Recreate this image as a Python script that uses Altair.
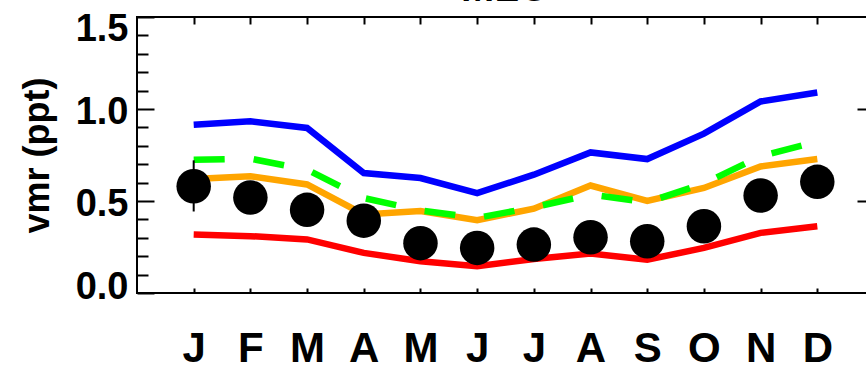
import altair as alt
import pandas as pd

# Monthly mean volume mixing ratios (ppt)
months = ["J", "F", "M", "A", "M", "J", "J", "A", "S", "O", "N", "D"]
month_num = list(range(1, 13))

obs_vmr = [0.580, 0.519, 0.452, 0.393, 0.271, 0.245, 0.263, 0.303, 0.281, 0.363, 0.530, 0.604]
err_month = [1]
err_low = [0.443]
err_high = [0.721]

sim_blue = [0.915, 0.933, 0.897, 0.652, 0.625, 0.543, 0.643, 0.764, 0.728, 0.866, 1.041, 1.090]
sim_orange = [0.620, 0.635, 0.590, 0.427, 0.445, 0.396, 0.458, 0.584, 0.500, 0.571, 0.688, 0.728]
sim_green = [0.724, 0.730, 0.670, 0.516, 0.449, 0.408, 0.466, 0.535, 0.493, 0.595, 0.743, 0.824]
sim_red = [0.318, 0.309, 0.291, 0.218, 0.173, 0.145, 0.185, 0.214, 0.181, 0.245, 0.327, 0.363]

station = "MLO"
y_major = [0.0, 0.5, 1.0, 1.5]
y_minor = [0.1, 0.2, 0.3, 0.4, 0.6, 0.7, 0.8, 0.9, 1.1, 1.2, 1.3, 1.4]

W, H = 737, 276
FONT = "Liberation Sans"

solid = pd.DataFrame(
    {
        "month": month_num * 3,
        "vmr": sim_red + sim_orange + sim_blue,
        "run": ["red"] * 12 + ["orange"] * 12 + ["blue"] * 12,
    }
)
dashed = pd.DataFrame({"month": month_num, "vmr": sim_green})
obs = pd.DataFrame({"month": month_num, "vmr": obs_vmr})
errs = pd.DataFrame({"month": err_month, "lo": err_low, "hi": err_high})
title_df = pd.DataFrame({"label": [station]})

x_scale = alt.Scale(domain=[0, 13], nice=False, zero=False)
y_scale = alt.Scale(domain=[0, 1.5], nice=False, zero=False)

month_expr = "[" + ",".join("'%s'" % m for m in months) + "][datum.value - 1]"

x_bottom = alt.Axis(
    orient="bottom", values=month_num, labelExpr=month_expr, tickSize=5, offset=-5,
    domain=False, grid=False, title=None, labelFontSize=42, labelFontWeight="bold",
    labelPadding=35, labelOverlap=False, labelFlush=False, labelBound=False,
)
x_top = alt.Axis(
    orient="top", values=month_num, tickSize=7, offset=-7, labels=False,
    domain=False, grid=False, title=None,
)
y_left = alt.Axis(
    orient="left", values=y_major, format=".1f", tickSize=17, offset=-17,
    domain=False, grid=False, labelFontSize=38, labelFontWeight="bold", labelPadding=9,
    labelOverlap=False, labelFlush=False, labelBound=False,
    labelOffset={
        "condition": [
            {"test": "datum.value >= 1.5", "value": 12},
            {"test": "datum.value <= 0", "value": -6},
        ],
        "value": 3,
    },
    title="vmr (ppt)", titleFontSize=36, titleFontWeight="bold", titlePadding=19,
)
y_left_minor = alt.Axis(
    orient="left", values=y_minor, tickSize=11, offset=-11, labels=False,
    domain=False, grid=False, title=None,
)
y_right = alt.Axis(
    orient="right", values=[0.5, 1.0], tickSize=17, offset=-17, labels=False,
    domain=False, grid=False, title=None,
)

lines = alt.Chart(solid).mark_line(strokeWidth=6.5).encode(
    x=alt.X("month:Q", scale=x_scale, axis=x_bottom),
    y=alt.Y("vmr:Q", scale=y_scale, axis=y_left),
    color=alt.Color(
        "run:N",
        scale=alt.Scale(domain=["red", "orange", "blue"], range=["#ff0000", "#ffa500", "#0000ff"]),
        legend=None,
    ),
    detail="run:N",
)

green = alt.Chart(dashed).mark_line(strokeWidth=6.5, color="#00ff00", strokeDash=[31, 29]).encode(
    x=alt.X("month:Q", scale=x_scale, axis=None),
    y=alt.Y("vmr:Q", scale=y_scale, axis=None),
)

dots = alt.Chart(obs).mark_circle(size=1190, color="black", opacity=1).encode(
    x=alt.X("month:Q", scale=x_scale, axis=x_top),
    y=alt.Y("vmr:Q", scale=y_scale, axis=y_left_minor),
)

bars = alt.Chart(errs).mark_rule(color="black", strokeWidth=2).encode(
    x=alt.X("month:Q", scale=x_scale, axis=None),
    y=alt.Y("lo:Q", scale=y_scale, axis=y_right),
    y2="hi:Q",
)

heading = alt.Chart(title_df).mark_text(
    fontSize=40, fontWeight="bold", font=FONT, color="black", baseline="alphabetic", align="center"
).encode(
    x=alt.value(W / 2),
    y=alt.value(-16),
    text="label:N",
)

chart = (
    alt.layer(lines, green, dots, bars, heading)
    .resolve_axis(x="independent", y="independent")
    .properties(
        width=W,
        height=H,
        autosize=alt.AutoSizeParams(type="none"),
        padding={"left": 137, "top": 17, "right": -8, "bottom": 73},
        background="white",
    )
    .configure_view(stroke="black", strokeWidth=2)
    .configure_axis(
        labelFont=FONT, titleFont=FONT, labelColor="black", titleColor="black",
        tickColor="black", tickWidth=2,
    )
)

chart.save("out.html", embed_options={"renderer": "svg", "actions": False})
